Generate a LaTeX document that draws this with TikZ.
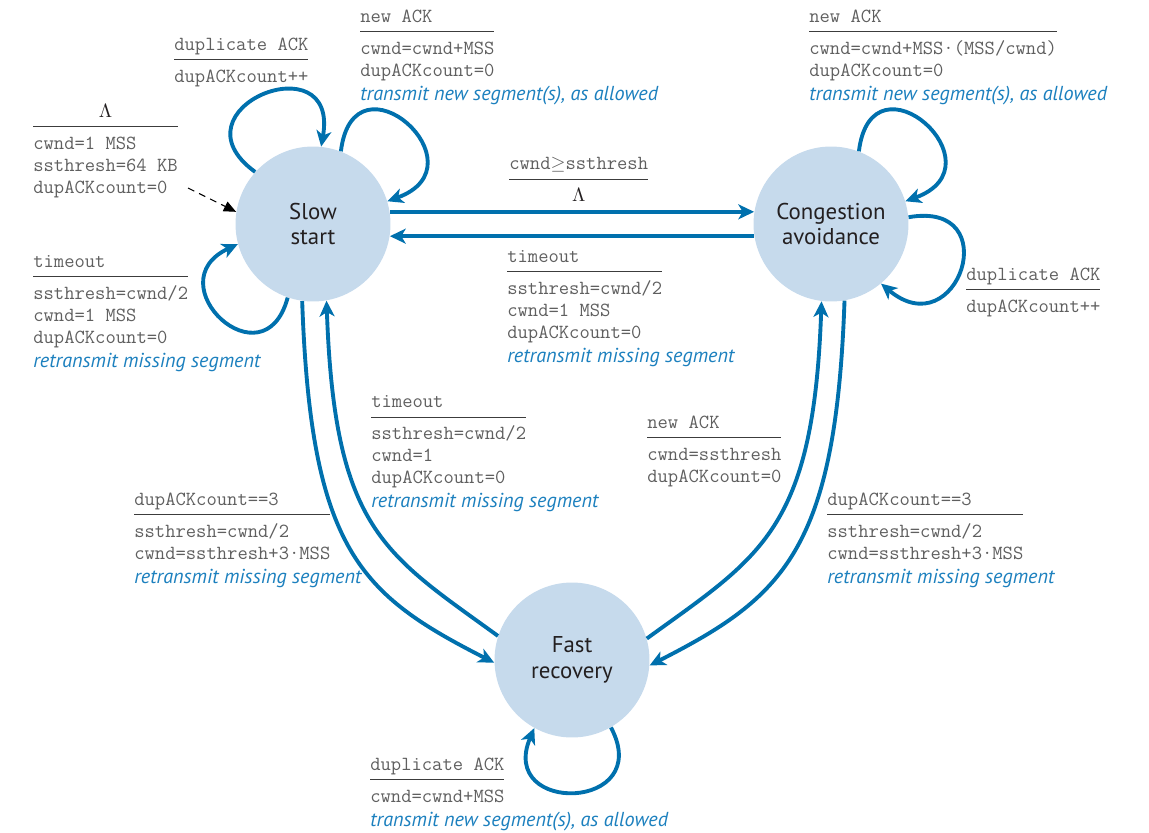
\documentclass[tikz,border=0pt]{standalone}
\usepackage{fontspec}
\setsansfont{PT Sans}
\usepackage{colortbl}
\usetikzlibrary{arrows.meta}

\definecolor{statefill}{RGB}{198,218,236}
\definecolor{statetext}{RGB}{35,31,32}
\definecolor{arrowblue}{RGB}{0,112,173}
\definecolor{actblue}{RGB}{28,128,190}
\definecolor{labelgrey}{RGB}{95,95,95}
\definecolor{rulegrey}{RGB}{60,60,60}

\arrayrulecolor{rulegrey}
\setlength\arrayrulewidth{0.8pt}

% guard over a rule, actions below it
\newcommand\cond[2]{\begin{tabular}[t]{@{}l@{}}#1\\[1.4pt]\hline\noalign{\vskip3.75pt}#2\end{tabular}}
% blue action line, not counted in the rule width
\newcommand\act[1]{\rlap{\fontsize{11.5}{12.5}\selectfont\sffamily\itshape\color{actblue}#1}}
\newcommand\none{\multicolumn{1}{c}{\color{statetext}$\Lambda$}}

\begin{document}
\begin{tikzpicture}[x=0.02cm, y=0.02cm,
  state/.style={circle, fill=statefill, minimum size=3.1cm, inner sep=0pt, align=center,
    text=statetext, font=\fontsize{13}{14.5}\selectfont\sffamily},
  trans/.style={draw=arrowblue, line width=2.2pt, -{Stealth[length=9pt, width=8.5pt, inset=2.5pt]}},
  lbl/.style={anchor=base west, inner sep=0pt, text=labelgrey, font=\fontsize{11.4}{12.5}\selectfont\ttfamily}]
\useasboundingbox (0,0) rectangle (1149,-832);

% states
\node [state] (ss) at (313,-224) {Slow\\start};
\node [state] (ca) at (831,-224) {Congestion\\avoidance};
\node [state] (fr) at (572,-660) {Fast\\recovery};

% start
\coordinate (init) at (188,-188);
\draw [dashed, dash pattern=on 4pt off 3pt, line width=0.6pt, -{Triangle[length=7pt, width=6pt]}] (init) -- (ss.171);

% between slow start and congestion avoidance
\draw [trans] (ss.9) -- (ca.171);
\draw [trans] (ca.189) -- (ss.-9);

% self loops
\draw [trans] (ss.138) .. controls +(144:108) and +(80:108) .. (ss.84);
\draw [trans] (ss.69) .. controls +(83:105) and +(20:105) .. (ss.17);
\draw [trans] (ss.251) .. controls +(-105:92) and +(205:92) .. (ss.195);
\draw [trans] (ca.69) .. controls +(83:105) and +(20:105) .. (ca.17);
\draw [trans] (ca.5) .. controls +(10:100) and +(-40:100) .. (ca.-50);
\draw [trans] (fr.-60) .. controls +(-62:95) and +(-113:95) .. (fr.-119);

% to and from fast recovery
\draw [trans] (ss.262) .. controls +(-88:250) and +(153:150) .. (fr.182);
\draw [trans] (fr.162) .. controls +(144:140) and +(-88:230) .. (ss.280);
\draw [trans] (ca.280) .. controls +(-92:250) and +(27:150) .. (fr.-4);
\draw [trans] (fr.16) .. controls +(36:140) and +(-92:230) .. (ca.263);

% labels
\node [lbl] (linit) at (33,-117) {\cond{\none}{cwnd=1 MSS\\ssthresh=64 KB\\dupACKcount=0}};
\node [lbl] (ssdup) at (174,-50) {\cond{duplicate ACK}{dupACKcount++}};
\node [lbl] (ssnew) at (360,-22) {\cond{new ACK}{cwnd=cwnd+MSS\\dupACKcount=0\\[1pt]\act{transmit new segment(s), as allowed}}};
\node [lbl] (ssto) at (33,-267) {\cond{timeout}{ssthresh=cwnd/2\\cwnd=1 MSS\\dupACKcount=0\\[1pt]\act{retransmit missing segment}}};
\node [lbl] (ss2ca) at (509,-169.5) {\cond{cwnd$\geq$ssthresh}{\none}};
\node [lbl] (ca2ss) at (507,-262) {\cond{timeout}{ssthresh=cwnd/2\\cwnd=1 MSS\\dupACKcount=0\\[1pt]\act{retransmit missing segment}}};
\node [lbl] (canew) at (809,-22) {\cond{new ACK}{cwnd=cwnd+MSS·(MSS/cwnd)\\dupACKcount=0\\[1pt]\act{transmit new segment(s), as allowed}}};
\node [lbl] (cadup) at (966,-280) {\cond{duplicate ACK}{dupACKcount++}};
\node [lbl] (fr2ss) at (371,-407.5) {\cond{timeout}{ssthresh=cwnd/2\\cwnd=1\\dupACKcount=0\\[1pt]\act{retransmit missing segment}}};
\node [lbl] (fr2ca) at (647,-428) {\cond{new ACK}{cwnd=ssthresh\\dupACKcount=0}};
\node [lbl] (ss2fr) at (134,-505) {\cond{dupACKcount==3}{ssthresh=cwnd/2\\cwnd=ssthresh+3·MSS\\[1pt]\act{retransmit missing segment}}};
\node [lbl] (ca2fr) at (827,-505) {\cond{dupACKcount==3}{ssthresh=cwnd/2\\cwnd=ssthresh+3·MSS\\[1pt]\act{retransmit missing segment}}};
\node [lbl] (frdup) at (370,-770) {\cond{duplicate ACK}{cwnd=cwnd+MSS\\[1pt]\act{transmit new segment(s), as allowed}}};
\end{tikzpicture}
\end{document}
